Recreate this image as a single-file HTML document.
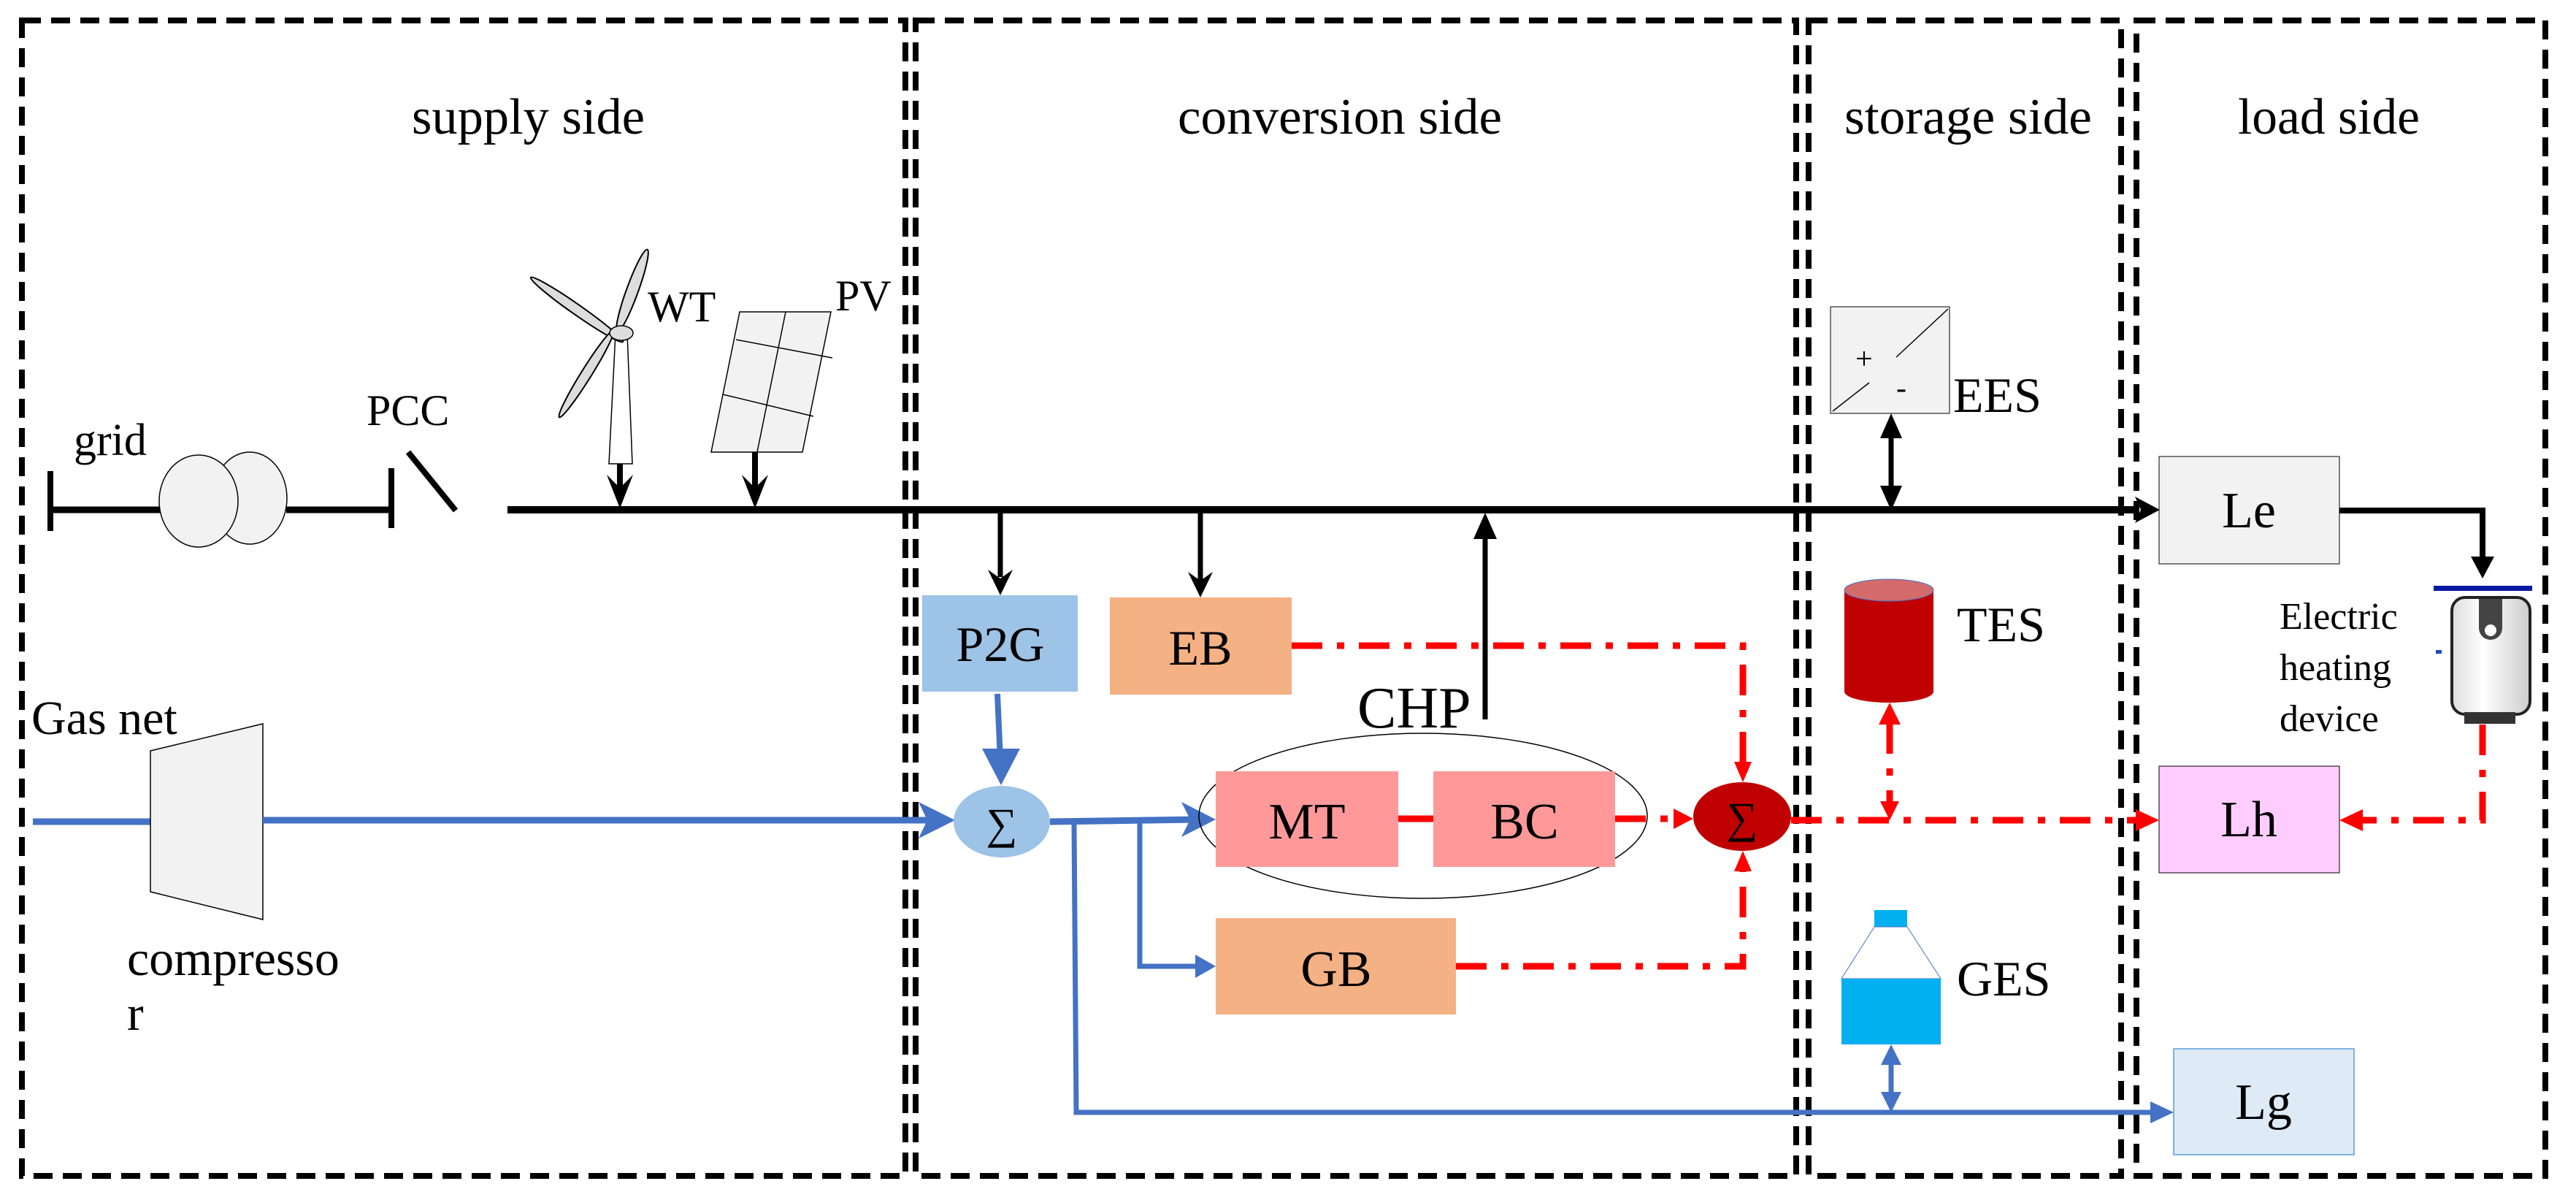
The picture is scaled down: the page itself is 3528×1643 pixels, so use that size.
<!DOCTYPE html>
<html><head><meta charset="utf-8"><style>
html,body{margin:0;padding:0;background:#fff;}
svg{display:block;}
svg text{font-family:"Liberation Serif","Times New Roman",serif !important;fill:#000;}
</style></head><body>
<svg width="3528" height="1643" viewBox="0 0 3528 1643" xmlns="http://www.w3.org/2000/svg" font-family="Liberation Serif, serif">
<g fill="none" stroke="#000" stroke-width="8" stroke-dasharray="26 14">
<rect x="30" y="28" width="1210" height="1582"/>
<rect x="1254" y="28" width="1206" height="1582"/>
<rect x="2477" y="28" width="428" height="1582"/>
<rect x="2926" y="28" width="560" height="1582"/>
</g>
<g font-family="Liberation Serif, serif">
<g font-size="70">
<text x="564" y="183" textLength="319" lengthAdjust="spacingAndGlyphs">supply side</text>
<text x="1613" y="183" textLength="444" lengthAdjust="spacingAndGlyphs">conversion side</text>
<text x="2526" y="183" textLength="339" lengthAdjust="spacingAndGlyphs">storage side</text>
<text x="3065" y="183" textLength="249" lengthAdjust="spacingAndGlyphs">load side</text>
</g>
<text x="101" y="623" font-size="62">grid</text>
<text x="502" y="582" font-size="60">PCC</text>
<text x="887" y="440" font-size="60">WT</text>
<text x="1144" y="425" font-size="60">PV</text>
<text x="43" y="1005" font-size="66">Gas net</text>
<text x="174" y="1335" font-size="68">compresso</text>
<text x="174" y="1410" font-size="68">r</text>
<text x="1370" y="905" font-size="68" text-anchor="middle">P2G</text>
<text x="1644" y="910" font-size="68" text-anchor="middle">EB</text>
<text x="1790" y="1148" font-size="70" text-anchor="middle">MT</text>
<text x="2088" y="1148" font-size="70" text-anchor="middle">BC</text>
<text x="1859" y="996" font-size="80">CHP</text>
<text x="1830" y="1350" font-size="70" text-anchor="middle">GB</text>
<text x="2675" y="564" font-size="68">EES</text>
<text x="2680" y="878" font-size="68">TES</text>
<text x="2680" y="1363" font-size="68">GES</text>
<text x="3080" y="722" font-size="70" text-anchor="middle">Le</text>
<text x="3080" y="1145" font-size="70" text-anchor="middle">Lh</text>
<text x="3100" y="1532" font-size="70" text-anchor="middle">Lg</text>
<text x="3122" y="861" font-size="52">Electric</text>
<text x="3122" y="931" font-size="52">heating</text>
<text x="3122" y="1001" font-size="52">device</text>
</g>
<!-- grid -->
<line x1="69" y1="645" x2="69" y2="727" stroke="#000" stroke-width="8"/>
<line x1="69" y1="698" x2="220" y2="698" stroke="#000" stroke-width="9"/>
<ellipse cx="342" cy="682" rx="51" ry="63" fill="#f2f2f2" stroke="#000" stroke-width="1.5"/>
<ellipse cx="272" cy="686" rx="54" ry="63" fill="#f2f2f2" stroke="#000" stroke-width="1.5"/>
<line x1="392" y1="698" x2="536" y2="698" stroke="#000" stroke-width="9"/>
<line x1="536" y1="641" x2="536" y2="723" stroke="#000" stroke-width="8"/>
<line x1="559" y1="619" x2="624" y2="699" stroke="#000" stroke-width="8"/>
<!-- bus -->
<line x1="695" y1="698" x2="2930" y2="698" stroke="#000" stroke-width="10"/>
<polygon points="2958,698 2924,680 2932,698 2924,716" fill="#000"/>
<!-- WT -->
<polygon points="843,456 859,456 866,635 834,635" fill="#fff" stroke="#000" stroke-width="1.5"/>
<g fill="#ddd" stroke="#000" stroke-width="2">
<ellipse cx="866" cy="398" rx="60" ry="8" transform="rotate(-70 866 398)"/>
<ellipse cx="790" cy="424" rx="77" ry="7" transform="rotate(35 790 424)"/>
<ellipse cx="803" cy="512" rx="70" ry="7" transform="rotate(-58 803 512)"/>
</g>
<ellipse cx="851" cy="456" rx="16" ry="10" fill="#ddd" stroke="#000" stroke-width="1.5"/>
<line x1="849" y1="635" x2="849" y2="675" stroke="#000" stroke-width="8"/>
<polygon points="849,696 831,650 849,668 867,650" fill="#000"/>
<!-- PV -->
<polygon points="1013,427 1138,427 1099,619 974,619" fill="#f2f2f2" stroke="#000" stroke-width="1.5"/>
<g stroke="#000" stroke-width="1.5">
<line x1="1076" y1="427" x2="1037" y2="619"/>
<line x1="1008" y1="465" x2="1140" y2="490"/>
<line x1="990" y1="540" x2="1114" y2="570"/>
</g>
<line x1="1034" y1="619" x2="1034" y2="675" stroke="#000" stroke-width="8"/>
<polygon points="1034,696 1016,650 1034,668 1052,650" fill="#000"/>
<!-- gas -->
<line x1="45" y1="1125" x2="206" y2="1125" stroke="#4472c4" stroke-width="9"/>
<polygon points="206,1028 360,991 360,1259 206,1221" fill="#f2f2f2" stroke="#000" stroke-width="1.5"/>
<line x1="360" y1="1123" x2="1290" y2="1123" stroke="#4472c4" stroke-width="9"/>
<polygon points="1308,1123 1258,1098 1270,1123 1258,1148" fill="#4472c4"/>
<!-- P2G -->
<line x1="1370" y1="699" x2="1370" y2="790" stroke="#000" stroke-width="7"/>
<polygon points="1370,815 1353,780 1370,792 1387,780" fill="#000"/>
<rect x="1263" y="815" width="213" height="132" fill="#9dc3e6"/>
<line x1="1366" y1="950" x2="1370" y2="1040" stroke="#4472c4" stroke-width="8"/>
<polygon points="1371,1075 1345,1025 1397,1025" fill="#4472c4"/>
<!-- EB -->
<line x1="1644" y1="699" x2="1644" y2="795" stroke="#000" stroke-width="7"/>
<polygon points="1644,818 1627,783 1644,795 1661,783" fill="#000"/>
<rect x="1520" y="818" width="249" height="133" fill="#f4b183"/>
<!-- sigma1 -->
<ellipse cx="1372" cy="1125" rx="66" ry="49" fill="#9dc3e6"/>
<text x="1372" y="1148" font-size="60" text-anchor="middle" font-family="Liberation Serif, serif">∑</text>
<line x1="1438" y1="1125" x2="1640" y2="1122" stroke="#4472c4" stroke-width="9"/>
<polygon points="1665,1122 1618,1098 1630,1122 1618,1146" fill="#4472c4"/>
<polyline points="1471,1127 1474,1523 2950,1523" fill="none" stroke="#4472c4" stroke-width="7"/>
<polygon points="2977,1523 2945,1508 2945,1538" fill="#4472c4"/>
<polyline points="1561,1127 1561,1323 1640,1323" fill="none" stroke="#4472c4" stroke-width="7"/>
<polygon points="1665,1323 1637,1307 1637,1339" fill="#4472c4"/>
<!-- CHP -->
<ellipse cx="1949" cy="1117" rx="307" ry="113" fill="none" stroke="#000" stroke-width="1.5"/>
<rect x="1665" y="1056" width="250" height="131" fill="#ff9999"/>
<rect x="1963" y="1056" width="249" height="131" fill="#ff9999"/>
<line x1="1915" y1="1121" x2="1963" y2="1121" stroke="#f00" stroke-width="9"/>
<g font-family="Liberation Serif, serif">
<text x="1790" y="1148" font-size="70" text-anchor="middle">MT</text>
<text x="2088" y="1148" font-size="70" text-anchor="middle">BC</text>
</g>
<line x1="2034" y1="985" x2="2034" y2="725" stroke="#000" stroke-width="7"/>
<polygon points="2034,702 2018,738 2050,738" fill="#000"/>
<!-- GB -->
<rect x="1665" y="1257" width="329" height="132" fill="#f4b183"/>
<text x="1830" y="1350" font-size="70" text-anchor="middle" font-family="Liberation Serif, serif">GB</text>
<text x="1370" y="905" font-size="68" text-anchor="middle" font-family="Liberation Serif, serif">P2G</text>
<text x="1644" y="910" font-size="68" text-anchor="middle" font-family="Liberation Serif, serif">EB</text>
<!-- red dash-dot -->
<g fill="none" stroke="#f00" stroke-width="9" stroke-dasharray="42 20 10 20">
<polyline points="1769,884 2387,884 2387,1045"/>
<polyline points="1994,1323 2387,1323 2387,1190"/>
<line x1="2212" y1="1121" x2="2300" y2="1121"/>
<line x1="2453" y1="1123" x2="2930" y2="1123"/>
<line x1="2588" y1="990" x2="2588" y2="1100"/>
<polyline points="3400,992 3400,1123 3235,1123"/>
</g>
<g fill="#f00">
<polygon points="2387,1071 2375,1043 2399,1043"/>
<polygon points="2387,1165 2375,1193 2399,1193"/>
<polygon points="2319,1121 2292,1107 2292,1135"/>
<polygon points="2957,1123 2925,1108 2925,1138"/>
<polygon points="2588,962 2573,992 2603,992"/>
<polygon points="2588,1123 2575,1097 2601,1097"/>
<polygon points="3204,1123 3236,1108 3236,1138"/>
</g>
<ellipse cx="2386" cy="1118" rx="67" ry="47" fill="#c00000"/>
<text x="2386" y="1140" font-size="60" text-anchor="middle" font-family="Liberation Serif, serif">∑</text>
<!-- EES -->
<rect x="2507" y="420" width="163" height="146" fill="#f2f2f2" stroke="#000" stroke-width="1"/>
<line x1="2510" y1="563" x2="2560" y2="524" stroke="#000" stroke-width="1.5"/>
<line x1="2597" y1="489" x2="2668" y2="423" stroke="#000" stroke-width="1.5"/>
<text x="2553" y="505" font-size="42" text-anchor="middle" font-family="Liberation Serif, serif">+</text>
<text x="2604" y="545" font-size="42" text-anchor="middle" font-family="Liberation Serif, serif">-</text>
<line x1="2590" y1="585" x2="2590" y2="680" stroke="#000" stroke-width="7"/>
<polygon points="2590,566 2575,600 2605,600" fill="#000"/>
<polygon points="2590,699 2575,665 2605,665" fill="#000"/>
<!-- TES -->
<path d="M2526,808 L2526,947 A61,15 0 0 0 2648,947 L2648,808 Z" fill="#c00000"/>
<ellipse cx="2587" cy="808" rx="61" ry="15" fill="#d46a6a" stroke="#4472c4" stroke-width="1"/>
<!-- GES -->
<rect x="2567" y="1246" width="45" height="23" fill="#00b0f0"/>
<polygon points="2567,1269 2612,1269 2658,1340 2522,1340" fill="none" stroke="#4472c4" stroke-width="1"/>
<rect x="2522" y="1340" width="136" height="90" fill="#00b0f0"/>
<line x1="2590" y1="1450" x2="2590" y2="1505" stroke="#4472c4" stroke-width="7"/>
<polygon points="2590,1430 2576,1458 2604,1458" fill="#4472c4"/>
<polygon points="2590,1523 2576,1495 2604,1495" fill="#4472c4"/>
<!-- load side -->
<rect x="2957" y="625" width="247" height="147" fill="#f2f2f2" stroke="#000" stroke-width="1"/>
<polyline points="3204,699 3400,699 3400,770" fill="none" stroke="#000" stroke-width="8"/>
<polygon points="3400,792 3384,762 3416,762" fill="#000"/>
<rect x="2957" y="1049" width="247" height="146" fill="#ffccff" stroke="#000" stroke-width="1"/>
<rect x="2977" y="1436" width="247" height="145" fill="#deebf7" stroke="#5b9bd5" stroke-width="1.5"/>
<g font-family="Liberation Serif, serif">
<text x="3080" y="722" font-size="70" text-anchor="middle">Le</text>
<text x="3080" y="1145" font-size="70" text-anchor="middle">Lh</text>
<text x="3100" y="1532" font-size="70" text-anchor="middle">Lg</text>
</g>
<!-- heater -->
<defs><linearGradient id="hg" x1="0" x2="1"><stop offset="0" stop-color="#ddd"/><stop offset="0.4" stop-color="#fff"/><stop offset="1" stop-color="#ccc"/></linearGradient></defs>
<rect x="3333" y="802" width="135" height="7" fill="#0a1aa0"/>
<rect x="3358" y="818" width="107" height="160" rx="18" fill="url(#hg)" stroke="#222" stroke-width="4"/>
<rect x="3375" y="975" width="70" height="16" fill="#333"/>
<path d="M3395,820 L3395,860 A16,16 0 0 0 3427,860 L3427,820" fill="#444"/>
<circle cx="3411" cy="863" r="8" fill="#fff"/>
<rect x="3336" y="890" width="8" height="5" fill="#2244cc"/>
</svg>
</body></html>
